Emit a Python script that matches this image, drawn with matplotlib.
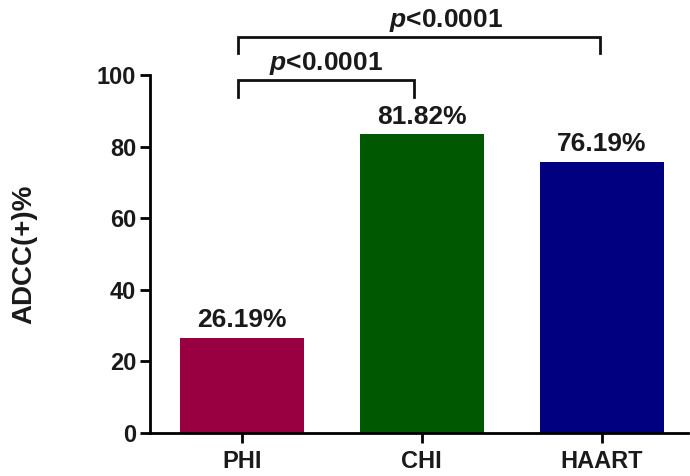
import matplotlib
matplotlib.use("Agg")
import matplotlib.pyplot as plt

categories = ["PHI", "CHI", "HAART"]
heights = [26.6, 83.5, 75.7]
value_labels = ["26.19%", "81.82%", "76.19%"]
colors = ["#990042", "#005800", "#000080"]
yticks = [0, 20, 40, 60, 80, 100]
comparisons = [(0, 1, "p<0.0001"), (0, 2, "p<0.0001")]

plt.rcParams['font.family'] = ['Liberation Sans', 'DejaVu Sans']
plt.rcParams['font.weight'] = 'bold'
plt.rcParams['mathtext.fontset'] = 'custom'
plt.rcParams['mathtext.it'] = 'Liberation Sans:italic'
plt.rcParams['mathtext.rm'] = 'Liberation Sans:bold'

fig = plt.figure(figsize=(6.9, 4.76), dpi=100)
ax = fig.add_axes([150/690, 43/476, 538/690, 358/476])

x = list(range(len(categories)))
ax.bar(x, heights, width=0.69, color=colors, edgecolor='none')

ax.set_xlim(-0.51, 2.48)
ax.set_ylim(0, 100)
ax.set_yticks(yticks)
ax.set_xticks(x)
ax.set_xticklabels(categories, fontsize=17, fontweight='bold', color='#1a1a1a')
ax.set_yticklabels([str(t) for t in yticks], fontsize=17, fontweight='bold', color='#1a1a1a')
for s in ['top', 'right']:
    ax.spines[s].set_visible(False)
for s in ['left', 'bottom']:
    ax.spines[s].set_linewidth(2)
ax.tick_params(axis='both', width=2, length=7, direction='out')
ax.tick_params(axis='x', pad=5)
ax.tick_params(axis='y', pad=3)

ax.set_ylabel("ADCC(+)%", fontsize=20, fontweight='bold', color='#1a1a1a')
ax.yaxis.set_label_coords(-0.21, 0.5)

for xi, h, lab in zip(x, heights, value_labels):
    ax.annotate(lab, (xi, h), xytext=(0, 4), textcoords='offset points',
                ha='center', va='bottom', fontsize=19, fontweight='bold', color='#1a1a1a')

# significance brackets
br = [(-0.022, 0.956, 98.6, 93.9, 0.0), (-0.022, 1.99, 110.6, 106.1, 0.15)]
for (i, j, txt), (x0, x1, ytop, yleg, toff) in zip(comparisons, br):
    ax.plot([x0, x0, x1, x1], [yleg, ytop, ytop, yleg], color='#111111', lw=2,
            clip_on=False, solid_joinstyle='miter')
    ax.text((x0 + x1) / 2 + toff, ytop + 0.8, r"$\it{p}$" + txt[1:],
            ha='center', va='bottom', fontsize=19, fontweight='bold', color='#1a1a1a')

fig.savefig("out.png", dpi=100)
